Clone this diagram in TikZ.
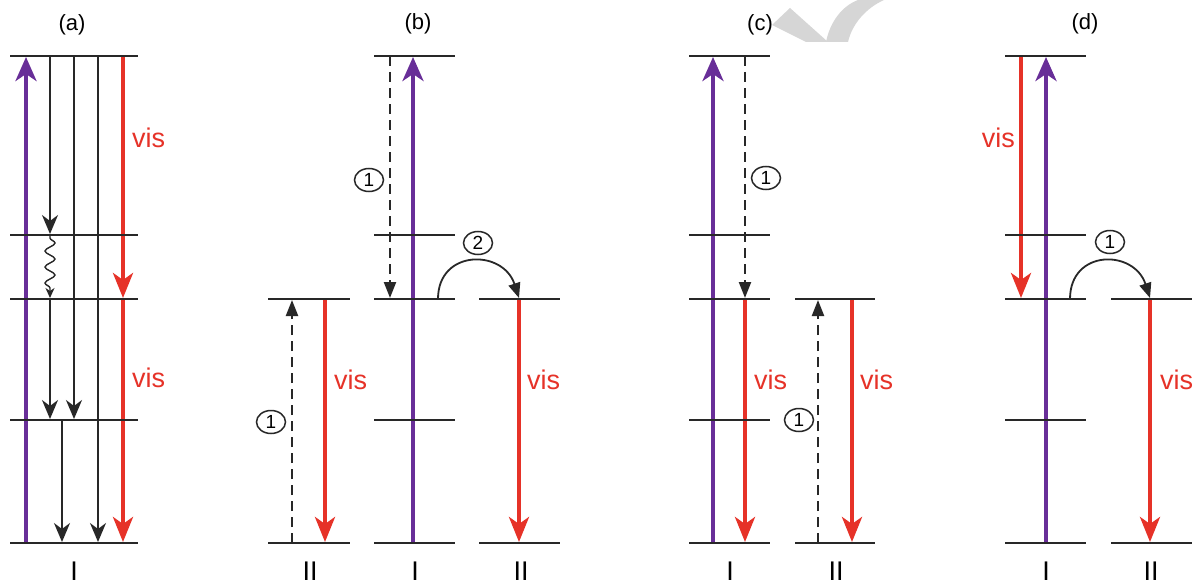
\documentclass[tikz,border=0pt]{standalone}
\usepackage{fontspec}
\setmainfont{Liberation Sans}
\usetikzlibrary{arrows.meta,decorations.pathmorphing,shapes.geometric}
\definecolor{uvpurple}{RGB}{104,46,152}
\definecolor{visred}{RGB}{230,50,40}
\definecolor{lvl}{RGB}{40,40,40}
\definecolor{wmgray}{RGB}{214,214,214}
\begin{document}
\begin{tikzpicture}[x=1pt,y=-1pt,
  level/.style={draw=lvl,line width=2.1pt},
  uvarrow/.style={draw=uvpurple,line width=4pt,-{Stealth[length=24pt,width=21pt,inset=7pt]}},
  visarrow/.style={draw=visred,line width=4pt,-{Stealth[length=25pt,width=20pt,inset=7pt]}},
  nrarrow/.style={draw=lvl,line width=1.9pt,-{Stealth[length=19pt,width=16pt,inset=6pt]}},
  wavyarrow/.style={draw=lvl,line width=1.4pt,-{Stealth[length=10pt,width=9pt,inset=3pt]},
     decorate,decoration={snake,amplitude=5pt,segment length=16pt,pre length=2pt,post length=8pt}},
  etarrow/.style={draw=lvl,line width=2.2pt,dash pattern=on 10pt off 6pt,-{Triangle[length=16pt,width=12pt]}},
  curvearrow/.style={draw=lvl,line width=1.8pt,-{Triangle[length=15pt,width=12pt]}},
  vislabel/.style={text=visred,font=\fontsize{27pt}{27pt}\selectfont,inner sep=0pt},
  panellabel/.style={font=\fontsize{22pt}{22pt}\selectfont,inner sep=0pt},
  specieslabel/.style={font=\fontsize{27pt}{27pt}\selectfont,inner sep=0pt},
  stepnum/.style={draw=lvl,line width=1.5pt,ellipse,minimum width=29pt,minimum height=23pt,inner sep=0pt,
     font=\fontsize{19pt}{19pt}\selectfont},
  wm/.style={fill=wmgray}
]
\useasboundingbox (0,0) rectangle (1202,586);
\fill[white] (0,0) rectangle (1202,586);

% watermark
\fill[wm] (772,25) -- (790,8) -- (828,42) -- (806,42) -- cycle;
\fill[wm] (826,42) .. controls (830,22) and (842,6) .. (858,0) -- (884,0) .. controls (866,8) and (852,24) .. (848,42) -- cycle;

% ================= panel (a)
\node[panellabel] (la) at (72,25) {(a)};
\node[specieslabel] (sa) at (74,571) {I};
\coordinate (a-uv0) at (26,543); \coordinate (a-uv1) at (26,57);
\draw[uvarrow] (a-uv0) -- (a-uv1);
\coordinate (a-n1s) at (50,56);  \coordinate (a-n1e) at (50,234);
\coordinate (a-w0) at (50,236);  \coordinate (a-w1) at (50,298);
\coordinate (a-n2s) at (50,299); \coordinate (a-n2e) at (50,419);
\coordinate (a-n3s) at (74,56);  \coordinate (a-n3e) at (74,419);
\coordinate (a-n4s) at (62,420); \coordinate (a-n4e) at (62,542);
\coordinate (a-n5s) at (98,56);  \coordinate (a-n5e) at (98,542);
\draw[nrarrow] (a-n1s) -- (a-n1e);
\draw[wavyarrow] (a-w0) -- (a-w1);
\draw[nrarrow] (a-n2s) -- (a-n2e);
\draw[nrarrow] (a-n3s) -- (a-n3e);
\draw[nrarrow] (a-n4s) -- (a-n4e);
\draw[nrarrow] (a-n5s) -- (a-n5e);
\coordinate (a-r0) at (123,56); \coordinate (a-r1) at (123,298);
\coordinate (a-r2) at (123,299); \coordinate (a-r3) at (123,542);
\draw[visarrow] (a-r0) -- (a-r1);
\draw[visarrow] (a-r2) -- (a-r3);
\node[vislabel,anchor=west] (a-v1) at (132,138) {vis};
\node[vislabel,anchor=west] (a-v2) at (132,378) {vis};
\foreach \y in {56,235,299,420,543} \draw[level] (10,\y) -- (138,\y);

% ================= panel (b)
\node[panellabel] (lb) at (418,24) {(b)};
\node[specieslabel] (sb1) at (310,571) {II};
\node[specieslabel] (sb2) at (415,571) {I};
\node[specieslabel] (sb3) at (521,571) {II};
% II left
\coordinate (b-e0) at (292,543); \coordinate (b-e1) at (292,300);
\draw[etarrow] (b-e0) -- (b-e1);
\node[stepnum] (b-c1) at (271,422) {1};
\coordinate (b-r0) at (325,299); \coordinate (b-r1) at (325,542);
\draw[visarrow] (b-r0) -- (b-r1);
\node[vislabel,anchor=west] (b-v1) at (334,380) {vis};
\foreach \y in {299,543} \draw[level] (268,\y) -- (350,\y);
% I
\coordinate (b-uv0) at (413,543); \coordinate (b-uv1) at (413,57);
\draw[uvarrow] (b-uv0) -- (b-uv1);
\coordinate (b-d0) at (390,56); \coordinate (b-d1) at (390,298);
\draw[etarrow] (b-d0) -- (b-d1);
\node[stepnum] (b-c2) at (369,180) {1};
\coordinate (b-t0) at (438,299); \coordinate (b-t1) at (519,298);
\draw[curvearrow] (b-t0) .. controls +(0,-50) and +(-16,-49) .. (b-t1);
\node[stepnum] (b-c3) at (478,243) {2};
\foreach \y in {56,235,299,420,543} \draw[level] (374,\y) -- (455,\y);
% II right
\coordinate (b-r2) at (519,299); \coordinate (b-r3) at (519,542);
\draw[visarrow] (b-r2) -- (b-r3);
\node[vislabel,anchor=west] (b-v2) at (527,380) {vis};
\foreach \y in {299,543} \draw[level] (479,\y) -- (560,\y);

% ================= panel (c)
\node[panellabel] (lc) at (760,25) {(c)};
\node[specieslabel] (sc1) at (730,571) {I};
\node[specieslabel] (sc2) at (836,571) {II};
\coordinate (c-uv0) at (713,543); \coordinate (c-uv1) at (713,57);
\draw[uvarrow] (c-uv0) -- (c-uv1);
\coordinate (c-d0) at (745,56); \coordinate (c-d1) at (745,298);
\draw[etarrow] (c-d0) -- (c-d1);
\node[stepnum] (c-c1) at (766,178) {1};
\coordinate (c-r0) at (745,299); \coordinate (c-r1) at (745,542);
\draw[visarrow] (c-r0) -- (c-r1);
\node[vislabel,anchor=west] (c-v1) at (754,380) {vis};
\foreach \y in {56,235,299,420,543} \draw[level] (689,\y) -- (770,\y);
\coordinate (c-e0) at (818,543); \coordinate (c-e1) at (818,300);
\draw[etarrow] (c-e0) -- (c-e1);
\node[stepnum] (c-c2) at (799,420) {1};
\coordinate (c-r2) at (852,299); \coordinate (c-r3) at (852,542);
\draw[visarrow] (c-r2) -- (c-r3);
\node[vislabel,anchor=west] (c-v2) at (860,380) {vis};
\foreach \y in {299,543} \draw[level] (795,\y) -- (875,\y);

% ================= panel (d)
\node[panellabel] (ld) at (1085,24) {(d)};
\node[specieslabel] (sd1) at (1046,571) {I};
\node[specieslabel] (sd2) at (1151,571) {II};
\coordinate (d-r0) at (1021,56); \coordinate (d-r1) at (1021,298);
\draw[visarrow] (d-r0) -- (d-r1);
\node[vislabel,anchor=east] (d-v1) at (1015,138) {vis};
\coordinate (d-uv0) at (1046,543); \coordinate (d-uv1) at (1046,57);
\draw[uvarrow] (d-uv0) -- (d-uv1);
\coordinate (d-t0) at (1070,299); \coordinate (d-t1) at (1150,298);
\draw[curvearrow] (d-t0) .. controls +(0,-50) and +(-16,-49) .. (d-t1);
\node[stepnum] (d-c1) at (1110,242) {1};
\foreach \y in {56,235,299,420,543} \draw[level] (1005,\y) -- (1086,\y);
\coordinate (d-r2) at (1150,299); \coordinate (d-r3) at (1150,542);
\draw[visarrow] (d-r2) -- (d-r3);
\node[vislabel,anchor=west] (d-v2) at (1160,380) {vis};
\foreach \y in {299,543} \draw[level] (1111,\y) -- (1192,\y);
\end{tikzpicture}
\end{document}
